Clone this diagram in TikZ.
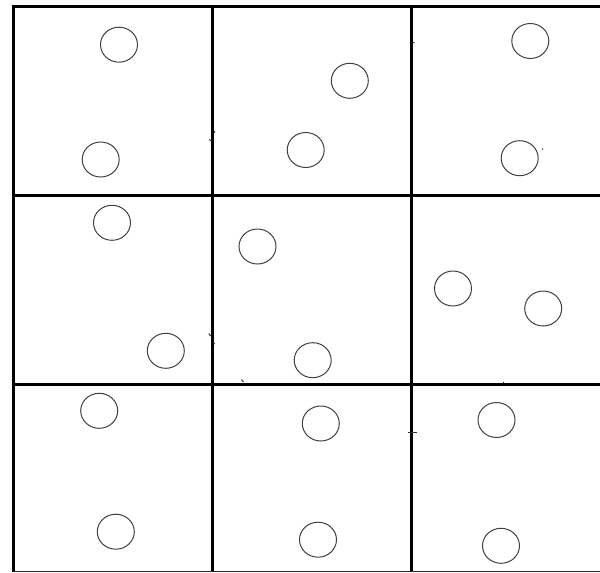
\documentclass[tikz,border=0pt]{standalone}
\usetikzlibrary{shapes.geometric}
\begin{document}
\begin{tikzpicture}[x=0.5pt,y=-0.5pt,
  gridline/.style={line width=1.5pt,black},
  thinline/.style={line width=0.75pt,black!85},
  ball/.style={draw=black!75,line width=0.5pt,ellipse,inner sep=0pt,minimum width=18.5pt,minimum height=17.5pt},
  speck/.style={line width=0.5pt,black!80}]
\useasboundingbox (0,0) rectangle (600,573);
% grid
\draw[gridline] (13,6.3) -- (600,6.3);
\draw[gridline] (13,5) -- (13,572);
\draw[gridline] (212.2,5) -- (212.2,572);
\draw[gridline] (411.8,5) -- (411.8,572);
\draw[gridline] (13,195) -- (600,195);
\draw[gridline] (13,384) -- (600,384);
\draw[thinline] (13,571.5) -- (600,571.5);
% circles
\node[ball] (a1) at (119,44.7) {};
\node[ball] (a2) at (100.7,159.5) {};
\node[ball] (b1) at (349.8,80.8) {};
\node[ball] (b2) at (305.7,150) {};
\node[ball] (c1) at (530.3,41) {};
\node[ball] (c2) at (519.7,158.2) {};
\node[ball] (d1) at (112,222.8) {};
\node[ball] (d2) at (165.8,350.8) {};
\node[ball] (e1) at (257.5,246.5) {};
\node[ball] (e2) at (312.7,360.2) {};
\node[ball] (f1) at (453,288.5) {};
\node[ball] (f2) at (543.2,308.5) {};
\node[ball] (g1) at (99.2,410.8) {};
\node[ball] (g2) at (115.8,531.7) {};
\node[ball] (h1) at (320.8,423.5) {};
\node[ball] (h2) at (318,539.7) {};
\node[ball] (i1) at (496.5,420) {};
\node[ball] (i2) at (501,545.8) {};
% stray specks
\draw[speck] (209.5,139) -- (210.5,141);
\draw[speck] (214,131) -- (215,132.5);
\draw[speck] (413,42.2) -- (414.5,43);
\draw[speck] (542.3,148.5) -- (543,149.5);
\draw[speck] (208.8,333.5) -- (210.5,336);
\draw[speck] (213.5,342.5) -- (214.5,344);
\draw[speck] (241.5,379.5) -- (243.5,382);
\draw[speck] (503.5,381.5) -- (503.5,383);
\draw[speck] (407.5,432.3) -- (416.5,432.3);
\end{tikzpicture}
\end{document}
